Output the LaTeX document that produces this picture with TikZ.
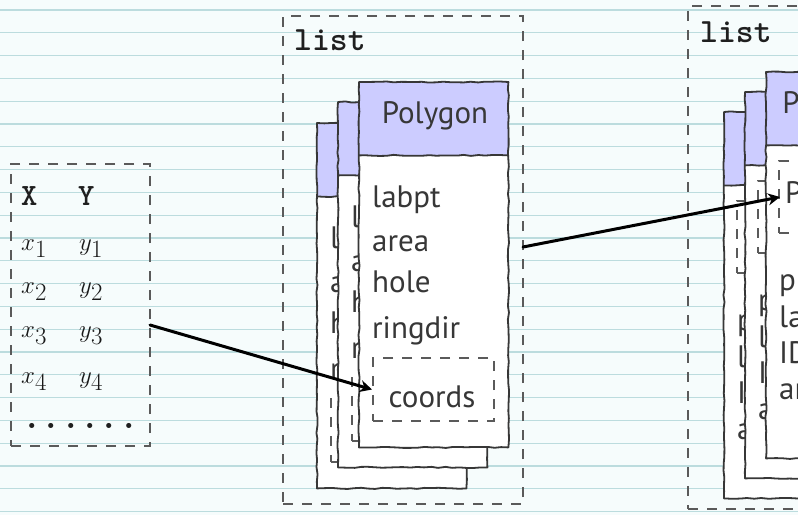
\documentclass[tikz,border=0pt]{standalone}
\usepackage{fontspec}
\newfontfamily\hand{PT Sans}
\usetikzlibrary{arrows.meta,decorations.pathmorphing}

\definecolor{paper}{RGB}{246,252,252}
\definecolor{ruleline}{RGB}{188,220,222}
\definecolor{headfill}{RGB}{204,204,255}
\definecolor{ink}{RGB}{55,55,55}
\definecolor{dashgray}{RGB}{90,90,90}

\tikzset{
  wobble/.style={decorate,decoration={random steps,segment length=7pt,amplitude=0.6pt}},
  outline/.style={draw=ink,line width=1.8pt,line join=round,wobble},
  dbox/.style={draw=dashgray,line width=2pt,dash pattern=on 10pt off 9pt,
    inner sep=0pt,anchor=north west},
  cardbody/.style={fill=white,inner sep=0pt,minimum width=149pt,anchor=north west},
  cardhead/.style={cardbody,fill=headfill,minimum height=73pt},
  slot/.style={dbox,minimum width=121pt},
  field/.style={anchor=base west,inner sep=0pt,text=ink,font=\hand\fontsize{31}{36}\selectfont},
  headtext/.style={field,anchor=base},
  ttlabel/.style={anchor=base west,inner sep=0pt,text=black!88,
    font=\ttfamily\bfseries\fontsize{34}{40}\selectfont},
  colhead/.style={ttlabel,font=\ttfamily\bfseries\fontsize{31}{36}\selectfont},
  mth/.style={anchor=base west,inner sep=0pt,text=black!90,font=\fontsize{35}{40}\selectfont},
  link/.style={draw=black,line width=3pt,line cap=round,
    -{Stealth[length=12pt,width=12pt]}}
}

% Card frame: white body, blue header, hand-drawn outlines
\newcommand\cardframe[2]{% #1 name, #2 body height
  \node[cardbody,minimum height=#2] (#1) at (0,0) {};
  \node[cardhead] (#1h) at (0,0) {};
  \draw[outline] (#1.north west) -- (#1.north east) -- (#1.south east)
    -- (#1.south west) -- cycle;
  \draw[outline] (#1h.south west) -- (#1h.south east);}

% Polygon card partly covered by the next one: only the left strip shows
\newcommand\polygonback[2]{%
  \begin{scope}[shift={#2}]
    \cardframe{#1}{365pt}
    \node[field] (#1a) at (13,125) {l};
    \node[field] (#1b) at (13,169) {a};
    \node[field] (#1c) at (13,210) {h};
    \node[field] (#1d) at (13,256) {r};
    \node[slot,minimum height=63pt] (#1s) at (13,275) {};
  \end{scope}}

% A Polygon object: header plus its slots
\newcommand\polygoncard[2]{%
  \begin{scope}[shift={#2}]
    \cardframe{#1}{365pt}
    \node[headtext] (#1t) at (76,41) {Polygon};
    \node[field] (#1a) at (13,125) {labpt};
    \node[field] (#1b) at (13,169) {area};
    \node[field] (#1c) at (13,210) {hole};
    \node[field] (#1d) at (13,256) {ringdir};
    \node[slot,minimum height=63pt] (#1s) at (13,275) {};
    \node[field,anchor=base] (#1e) at (73,325) {coords};
  \end{scope}}

% Polygons card partly covered by the next one
\newcommand\polygonsback[2]{%
  \begin{scope}[shift={#2}]
    \cardframe{#1}{386pt}
    \node[slot,minimum height=72pt] (#1s) at (12,88) {};
    \node[field] (#1a) at (13,218) {p};
    \node[field] (#1b) at (13,255) {l};
    \node[field] (#1c) at (13,291) {I};
    \node[field] (#1d) at (13,327) {a};
  \end{scope}}

% A Polygons object: header plus its slots
\newcommand\polygonscard[2]{%
  \begin{scope}[shift={#2}]
    \cardframe{#1}{386pt}
    \node[headtext] (#1t) at (76,41) {Polygons};
    \node[slot,minimum height=72pt] (#1s) at (12,88) {};
    \node[field] (#1p) at (19,131) {Polygons};
    \node[field] (#1a) at (13,218) {plotOrder};
    \node[field] (#1b) at (13,255) {labpt};
    \node[field] (#1c) at (13,291) {ID};
    \node[field] (#1d) at (13,327) {area};
  \end{scope}}

\begin{document}
\begin{tikzpicture}[x=1pt,y=-1pt]
  \useasboundingbox (0,0) rectangle (798,515);
  \begin{scope}
    \clip (0,0) rectangle (798,515);
    % ruled paper
    \fill[paper] (0,0) rectangle (798,515);
    \foreach \k in {0,...,22}
      \draw[ruleline,line width=1.3pt] (0,{10+22.8*\k}) -- (798,{10+22.8*\k});

    % coordinate table
    \node[dbox,minimum width=139pt,minimum height=282pt] (xy) at (10,163) {};
    \node[colhead] (hx) at (21,205) {X};
    \node[colhead] (hy) at (78,205) {Y};
    \node[mth] (x1) at (21,250) {$x_1$};
    \node[mth] (y1) at (79,250) {$y_1$};
    \node[mth] (x2) at (21,293) {$x_2$};
    \node[mth] (y2) at (79,293) {$y_2$};
    \node[mth] (x3) at (21,337) {$x_3$};
    \node[mth] (y3) at (79,337) {$y_3$};
    \node[mth] (x4) at (21,383) {$x_4$};
    \node[mth] (y4) at (79,383) {$y_4$};
    \node[colhead,font=\ttfamily\bfseries\fontsize{37}{40}\selectfont]
      (dots) at (22,428) {......};

    % list of Polygon objects
    \node[dbox,minimum width=240pt,minimum height=488pt] (list1) at (282,15) {};
    \node[ttlabel] (list1t) at (294,50) {list};
    \polygonback{pc}{(317,123)}
    \polygonback{pb}{(338,102)}
    \polygoncard{pa}{(359,82)}

    % list of Polygons objects
    \node[dbox,minimum width=240pt,minimum height=503pt] (list2) at (687,5) {};
    \node[ttlabel] (list2t) at (700,42) {list};
    \polygonsback{qc}{(724,112)}
    \polygonsback{qb}{(745,92)}
    \polygonscard{qa}{(766,72)}

    % references
    \coordinate (s1) at (150,325);
    \coordinate (s2) at (523,247);
    \draw[link] (s1) -- (pas.west);
    \draw[link] (s2) -- ([xshift=2pt]qas.west);
  \end{scope}
\end{tikzpicture}
\end{document}
